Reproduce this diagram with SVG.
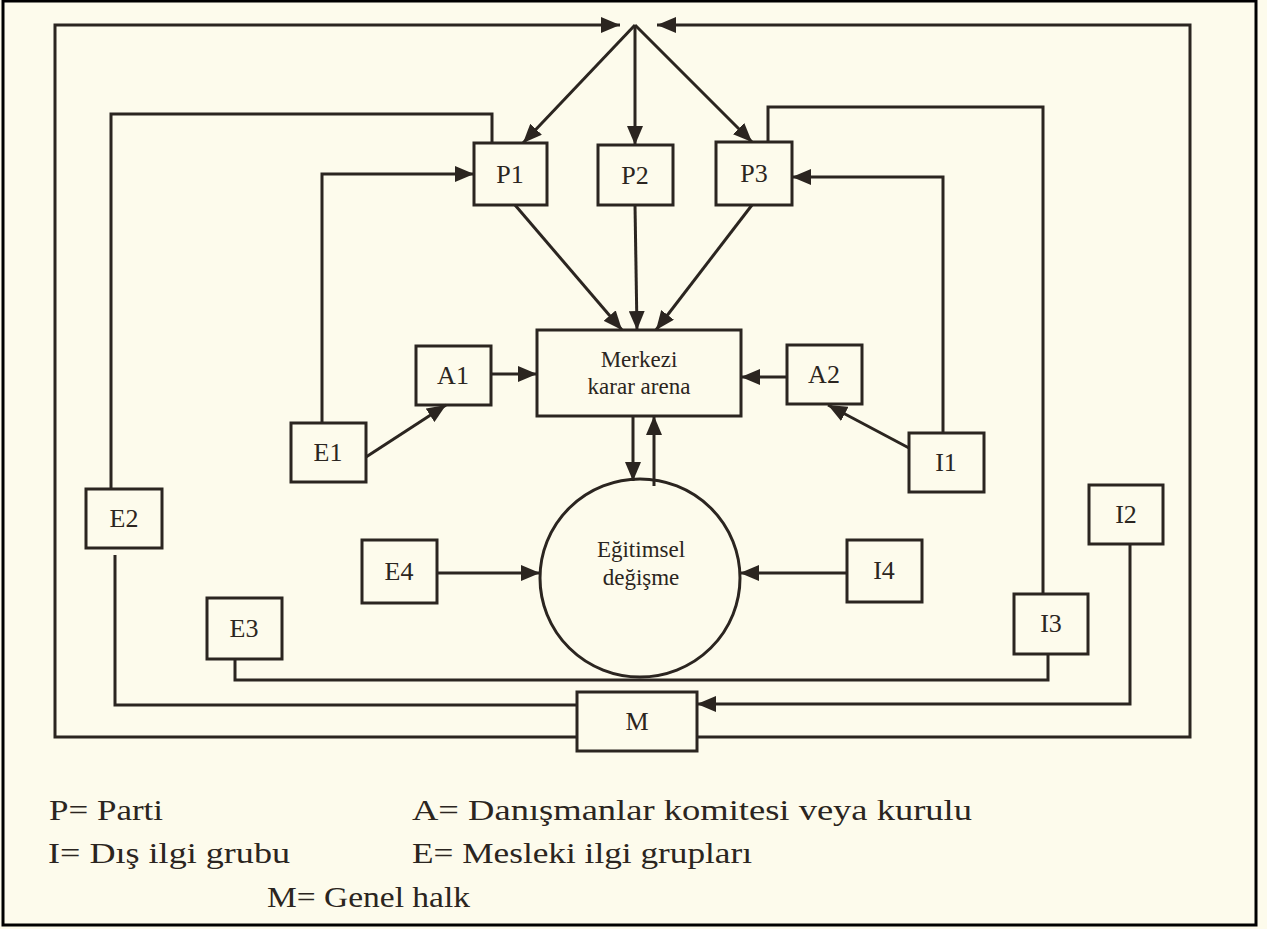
<svg xmlns="http://www.w3.org/2000/svg" width="1267" height="929" viewBox="0 0 1267 929">
<defs>
<marker id="ah" markerUnits="userSpaceOnUse" markerWidth="20" markerHeight="16" refX="19" refY="8" orient="auto">
<path d="M0,0 L19,8 L0,16 z" fill="#2b2520"/>
</marker>
<style>
.bx{fill:none;stroke:#2b2520;stroke-width:3}
.ln{fill:none;stroke:#2b2520;stroke-width:3}
.ar{fill:none;stroke:#2b2520;stroke-width:3;marker-end:url(#ah)}
.lb{font-family:"Liberation Serif","DejaVu Serif",serif;font-size:26px;fill:#2b2520;text-anchor:middle}
.lb2{font-family:"Liberation Serif","DejaVu Serif",serif;font-size:23px;fill:#2b2520;text-anchor:middle}
.lg{font-family:"Liberation Serif","DejaVu Serif",serif;font-size:30px;fill:#2b2520}
</style>
</defs>
<rect x="0" y="0" width="1267" height="929" fill="#fdfbec"/>
<rect x="3" y="1" width="1253" height="924" fill="none" stroke="#000" stroke-width="3"/>

<g id="connectors">
<polyline class="ar" points="577,737 55,737 55,25 620,25"/>
<polyline class="ar" points="697,737 1190,737 1190,25 657,25"/>
<line class="ar" x1="635" y1="25" x2="523" y2="143"/>
<line class="ar" x1="635" y1="25" x2="635" y2="145"/>
<line class="ar" x1="635" y1="25" x2="752" y2="142"/>
<line class="ar" x1="515" y1="205" x2="622" y2="330"/>
<line class="ar" x1="635" y1="205" x2="637" y2="330"/>
<line class="ar" x1="752" y1="205" x2="656" y2="330"/>
<polyline class="ln" points="111,489 111,114 492,114 492,143"/>
<polyline class="ln" points="1043,594 1043,107 768,107 768,142"/>
<polyline class="ar" points="322,423 322,174 474,174"/>
<polyline class="ar" points="943,433 943,177 792,177"/>
<line class="ar" x1="366" y1="457" x2="446" y2="405"/>
<line class="ar" x1="909" y1="448" x2="828" y2="405"/>
<line class="ar" x1="491" y1="374" x2="537" y2="374"/>
<line class="ar" x1="787" y1="377" x2="741" y2="377"/>
<line class="ar" x1="633" y1="416" x2="633" y2="481"/>
<line class="ar" x1="654" y1="486" x2="654" y2="416"/>
<line class="ar" x1="437" y1="573" x2="540" y2="573"/>
<line class="ar" x1="847" y1="573" x2="740" y2="573"/>
<polyline class="ln" points="235,659 235,680 1048,680 1048,654"/>
<polyline class="ln" points="115,555 115,705 577,705"/>
<polyline class="ar" points="1130,544 1130,704 697,704"/>
</g>

<g id="P1"><rect class="bx" x="474" y="143" width="73" height="62"/><text class="lb" x="510" y="183">P1</text></g>
<g id="P2"><rect class="bx" x="598" y="145" width="75" height="60"/><text class="lb" x="635" y="184">P2</text></g>
<g id="P3"><rect class="bx" x="716" y="142" width="76" height="63"/><text class="lb" x="754" y="182">P3</text></g>
<g id="Merkezi"><rect class="bx" x="537" y="330" width="204" height="86"/>
<text class="lb2" x="639" y="367">Merkezi</text><text class="lb2" x="639" y="394">karar arena</text></g>
<g id="A1"><rect class="bx" x="416" y="346" width="75" height="59"/><text class="lb" x="453" y="384">A1</text></g>
<g id="A2"><rect class="bx" x="787" y="345" width="75" height="59"/><text class="lb" x="824" y="383">A2</text></g>
<g id="E1"><rect class="bx" x="291" y="423" width="75" height="59"/><text class="lb" x="328" y="461">E1</text></g>
<g id="I1"><rect class="bx" x="909" y="433" width="75" height="59"/><text class="lb" x="946" y="471">I1</text></g>
<g id="E2"><rect class="bx" x="86" y="489" width="76" height="59"/><text class="lb" x="124" y="527">E2</text></g>
<g id="I2"><rect class="bx" x="1089" y="485" width="74" height="59"/><text class="lb" x="1126" y="523">I2</text></g>
<g id="E3"><rect class="bx" x="207" y="598" width="75" height="61"/><text class="lb" x="244" y="637">E3</text></g>
<g id="I3"><rect class="bx" x="1014" y="594" width="74" height="60"/><text class="lb" x="1051" y="632">I3</text></g>
<g id="E4"><rect class="bx" x="362" y="540" width="75" height="63"/><text class="lb" x="399" y="580">E4</text></g>
<g id="I4"><rect class="bx" x="847" y="540" width="75" height="62"/><text class="lb" x="884" y="579">I4</text></g>
<g id="circle"><ellipse class="bx" cx="640" cy="578" rx="100" ry="99"/>
<text class="lb2" x="641" y="557">Eğitimsel</text><text class="lb2" x="641" y="585">değişme</text></g>
<g id="M"><rect class="bx" x="577" y="692" width="120" height="59"/><text class="lb" x="637" y="730">M</text></g>

<g id="legend">
<text class="lg" x="49" y="820" textLength="114" lengthAdjust="spacingAndGlyphs">P= Parti</text>
<text class="lg" x="412" y="820" textLength="560" lengthAdjust="spacingAndGlyphs">A= Danışmanlar komitesi veya kurulu</text>
<text class="lg" x="48" y="863" textLength="242" lengthAdjust="spacingAndGlyphs">I= Dış ilgi grubu</text>
<text class="lg" x="412" y="863" textLength="340" lengthAdjust="spacingAndGlyphs">E= Mesleki ilgi grupları</text>
<text class="lg" x="267" y="907" textLength="203" lengthAdjust="spacingAndGlyphs">M= Genel halk</text>
</g>
</svg>
